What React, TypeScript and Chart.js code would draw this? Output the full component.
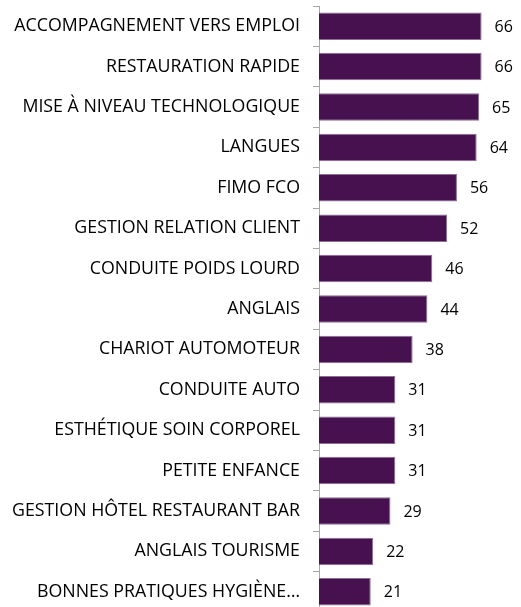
import React, { useEffect, useRef } from "react";
import { Chart, registerables } from "chart.js";

Chart.register(...registerables);

const categories = [
  "ACCOMPAGNEMENT VERS EMPLOI",
  "RESTAURATION RAPIDE",
  "MISE À NIVEAU TECHNOLOGIQUE",
  "LANGUES",
  "FIMO FCO",
  "GESTION RELATION CLIENT",
  "CONDUITE POIDS LOURD",
  "ANGLAIS",
  "CHARIOT AUTOMOTEUR",
  "CONDUITE AUTO",
  "ESTHÉTIQUE SOIN CORPOREL",
  "PETITE ENFANCE",
  "GESTION HÔTEL RESTAURANT BAR",
  "ANGLAIS TOURISME",
  "BONNES PRATIQUES HYGIÈNE…",
];

const values = [66, 66, 65, 64, 56, 52, 46, 44, 38, 31, 31, 31, 29, 22, 21];

const FONT = "'Open Sans', sans-serif";

const valueLabels = {
  id: "valueLabels",
  afterDatasetsDraw(chart: any) {
    const ctx = chart.ctx;
    const meta = chart.getDatasetMeta(0);
    ctx.save();
    ctx.fillStyle = "#000000";
    ctx.font = `16px ${FONT}`;
    ctx.textAlign = "left";
    ctx.textBaseline = "middle";
    meta.data.forEach((bar: any, i: number) => {
      ctx.fillText(String(values[i]), bar.x + 13, bar.y + 1);
    });
    ctx.restore();
  },
};

export default function App() {
  const ref = useRef<HTMLCanvasElement | null>(null);
  useEffect(() => {
    if (!ref.current) return;
    const chart = new Chart(ref.current, {
      type: "bar",
      data: {
        labels: categories,
        datasets: [
          {
            data: values,
            backgroundColor: "#47114F",
            borderColor: "#8C6E93",
            borderWidth: 1,
            categoryPercentage: 0.68,
            barPercentage: 1,
          },
        ],
      },
      options: {
        indexAxis: "y",
        animation: false,
        responsive: false,
        maintainAspectRatio: false,
        layout: { padding: { top: 6, bottom: 1, left: 0, right: 0 } },
        plugins: {
          legend: { display: false },
          tooltip: { enabled: false },
        },
        scales: {
          x: {
            display: false,
            min: 0,
            max: 82,
          },
          y: {
            offset: true,
            grid: {
              display: true,
              drawOnChartArea: false,
              drawTicks: true,
              tickLength: 6,
              color: "#A6A6A6",
              offset: true,
            },
            border: { display: true, color: "#A6A6A6", width: 1 },
            ticks: {
              color: "#000000",
              padding: 13,
              autoSkip: false,
              font: { family: FONT, size: 17.8 },
            },
            afterFit(scale: any) {
              scale.width = 319;
              scale.paddingTop = 0;
              scale.paddingBottom = 0;
            },
          },
        },
      },
      plugins: [valueLabels],
    });
    return () => chart.destroy();
  }, []);
  return (
    <div style={{ position: "fixed", left: 0, top: 0, width: 521, height: 607, background: "#fff", overflow: "hidden" }}>
      <canvas ref={ref} width={521} height={613} style={{ display: "block" }} />
    </div>
  );
}
